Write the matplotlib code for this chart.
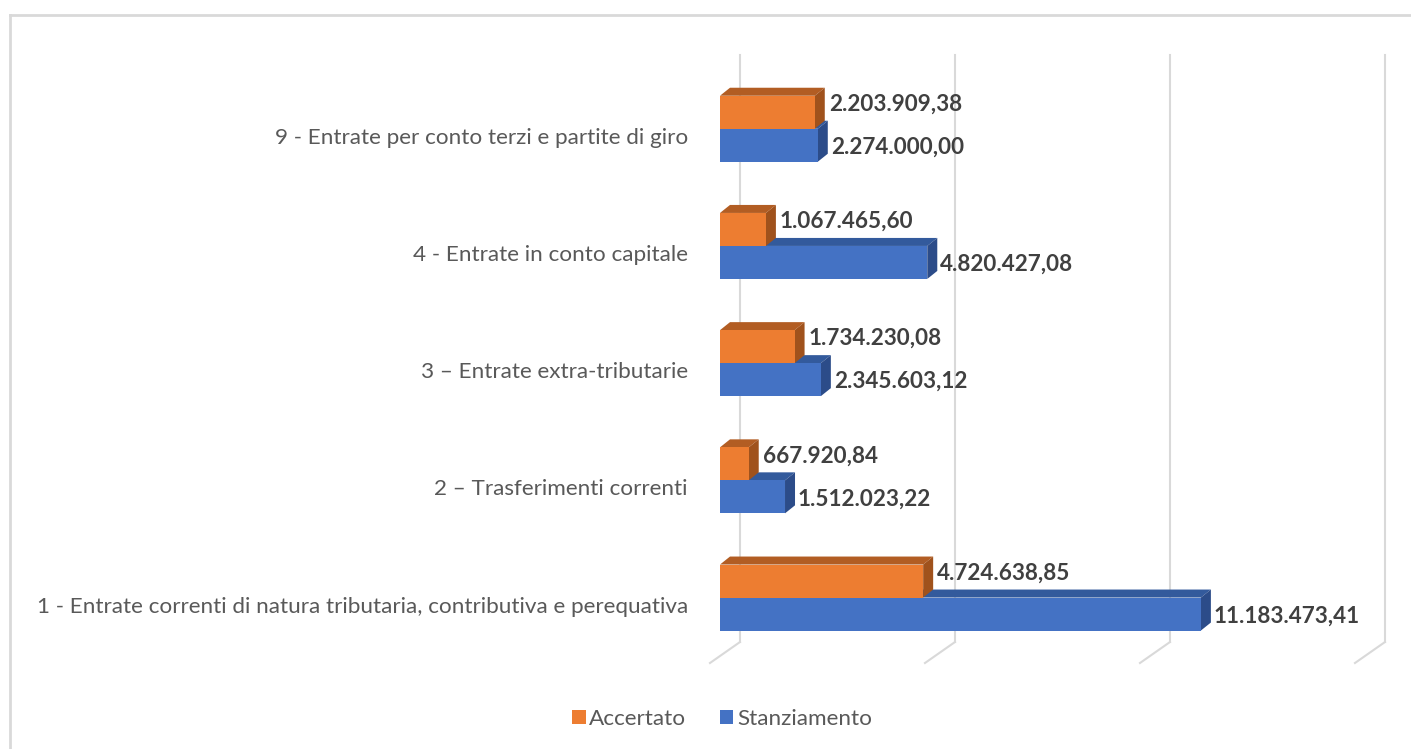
import matplotlib
matplotlib.use("Agg")
import matplotlib.pyplot as plt
from matplotlib.patches import Polygon, Patch
from matplotlib.lines import Line2D

categories = [
    "1 - Entrate correnti di natura tributaria, contributiva e perequativa",
    "2 \u2013 Trasferimenti correnti",
    "3 \u2013 Entrate extra-tributarie",
    "4 - Entrate in conto capitale",
    "9 - Entrate per conto terzi e partite di giro",
]
accertato = [4724638.85, 667920.84, 1734230.08, 1067465.60, 2203909.38]
stanziamento = [11183473.41, 1512023.22, 2345603.12, 4820427.08, 2274000.00]
grid_ticks = [0, 5e6, 10e6, 15e6]
series_names = ["Accertato", "Stanziamento"]

ORANGE, ORANGE_TOP, ORANGE_SIDE = "#ED7D31", "#B25D23", "#A0521C"
BLUE, BLUE_TOP, BLUE_SIDE = "#4472C4", "#335A9C", "#2C4C89"
GRID = "#D9D9D9"

W, H = 1411, 749
fig = plt.figure(figsize=(W / 100, H / 100), dpi=100)
fig.patch.set_facecolor("white")

# axes: x 0..15M -> px 720..1365, y -0.55..4.55 -> px 662..64.3
PXU = 117.2
ylo, yhi = -0.55, 4.55
ax_h = (yhi - ylo) * PXU
ax = fig.add_axes([720 / W, (H - 662) / H, 645 / W, ax_h / H])
ax.set_xlim(0, 15e6)
ax.set_ylim(ylo, yhi)
ax.axis("off")

UX = 15e6 / 645.0
UY = 1.0 / PXU


def ypx(p):
    return ylo + (662 - p) * UY


# back wall gridlines and floor diagonals
for v in grid_ticks:
    xb = v + 20 * UX
    ax.plot([xb, xb], [ypx(642), ypx(55)], color=GRID, lw=1.5, zorder=1, clip_on=False)
    ax.plot([v - 10 * UX, xb], [ypx(663), ypx(642)], color=GRID, lw=1.5, zorder=1, clip_on=False)

h = 33 * UY
dx, dy = 10 * UX, 8 * UY
ypos = list(range(len(categories)))


def faces(x_end, yb, yt, top_c, side_c, z):
    top = Polygon([(0, yt), (dx, yt + dy), (x_end + dx, yt + dy), (x_end, yt)],
                  closed=True, facecolor=top_c, edgecolor="none", zorder=z)
    side = Polygon([(x_end, yb), (x_end + dx, yb + dy), (x_end + dx, yt + dy), (x_end, yt)],
                   closed=True, facecolor=side_c, edgecolor="none", zorder=z)
    ax.add_patch(top)
    ax.add_patch(side)


for i in ypos:
    # blue (Stanziamento) below centre, orange (Accertato) above
    faces(stanziamento[i], i - h, i, BLUE_TOP, BLUE_SIDE, 2)
    faces(accertato[i], i, i + h, ORANGE_TOP, ORANGE_SIDE, 3)

ax.barh([y + h / 2 for y in ypos], accertato, height=h, color=ORANGE, zorder=3, lw=0)
ax.barh([y - h / 2 for y in ypos], stanziamento, height=h, color=BLUE, zorder=4, lw=0)


def fmt(v):
    s = f"{v:,.2f}"
    return s.replace(",", "X").replace(".", ",").replace("X", ".")


LABEL_FONT = ["Lato", "DejaVu Sans"]
FS_CAT = 16.2
FS_VAL = 16.2
for i in ypos:
    ax.annotate(fmt(accertato[i]), (accertato[i] + dx, i + h / 2), xytext=(4, 8),
                textcoords="offset pixels", ha="left", va="center", fontsize=FS_VAL,
                fontweight="bold", color="#404040", family=LABEL_FONT, zorder=6,
                annotation_clip=False)
    ax.annotate(fmt(stanziamento[i]), (stanziamento[i] + dx, i - h / 2), xytext=(3, -2),
                textcoords="offset pixels", ha="left", va="center", fontsize=FS_VAL,
                fontweight="bold", color="#404040", family=LABEL_FONT, zorder=6,
                annotation_clip=False)
    ax.annotate(categories[i], (0, i), xytext=(-32, -9), textcoords="offset pixels",
                ha="right", va="center", fontsize=FS_CAT, color="#595959",
                family=LABEL_FONT, annotation_clip=False)

# legend
handles = [Patch(facecolor=ORANGE, edgecolor="none", label=series_names[0]),
           Patch(facecolor=BLUE, edgecolor="none", label=series_names[1])]
fig.legend(handles=handles, loc="center", bbox_to_anchor=(722 / W, 1 - 719 / H), ncol=2,
           frameon=False, handlelength=0.6, handleheight=0.6, handletextpad=0.15,
           columnspacing=1.5, prop={"family": LABEL_FONT, "size": FS_CAT},
           labelcolor="#595959")

# chart border (top and left)
fig.add_artist(Line2D([10 / W, 1], [1 - 15 / H, 1 - 15 / H], color=GRID, lw=2,
                      transform=fig.transFigure))
fig.add_artist(Line2D([10 / W, 10 / W], [0, 1 - 15 / H], color=GRID, lw=2,
                      transform=fig.transFigure))

fig.savefig("out.png", dpi=100, facecolor="white")
